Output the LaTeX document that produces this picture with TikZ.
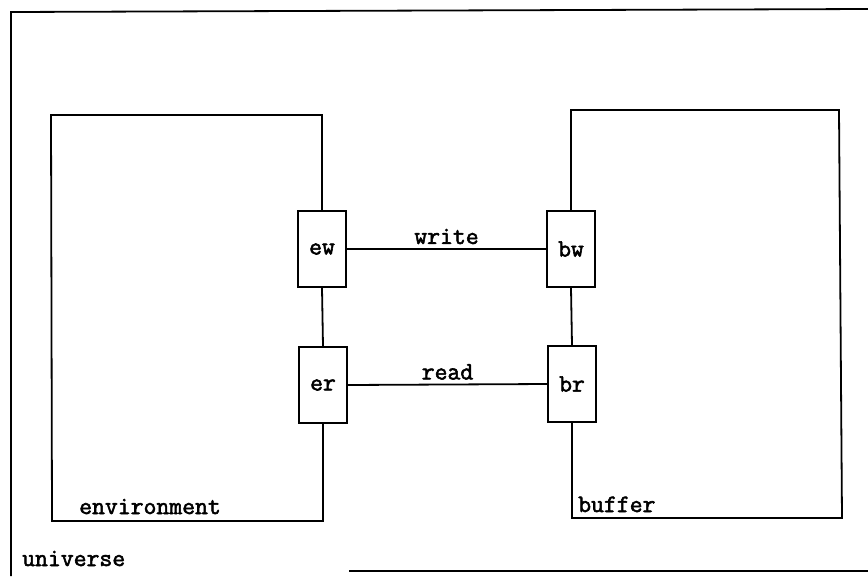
\documentclass[tikz,border=0pt]{standalone}
\usepackage{fontspec}
\newfontfamily\tyfont[FakeBold=2.2]{Latin Modern Mono}
\begin{document}
\begin{tikzpicture}[x=1pt,y=-1pt,
  every node/.style={font=\tyfont\fontsize{25}{28}\selectfont},
  port/.style={draw,line width=1.8pt,minimum width=48pt,minimum height=76pt,inner sep=0pt},
  wire/.style={line width=1.8pt},
  lbl/.style={anchor=base west,inner sep=0pt}]
\useasboundingbox (0,0) rectangle (868,576);
% universe frame (as visible)
\draw[wire] (868,9) -- (11,12) -- (11,576);
\draw[wire] (349,571) -- (868,571);
\node[lbl] (universe) at (22,566) {universe};
% ports
\node[port] (ew) at (322,249) {ew};
\node[port] (er) at (323,385) {er};
\node[port] (bw) at (571,249) {bw};
\node[port] (br) at (572,384) {br};
% environment box
\coordinate (envTR) at (322,115);
\coordinate (envTL) at (51,115);
\coordinate (envBL) at (52,521);
\coordinate (envBR) at (323,521);
\draw[wire] (ew.north) -- (envTR) -- (envTL) -- (envBL) -- (envBR) -- (er.south);
\draw[wire] (ew.south) -- (er.north);
\node[lbl] (envlbl) at (79,514) {environment};
% buffer box
\coordinate (bufTL) at (571,110);
\coordinate (bufTR) at (839,110);
\coordinate (bufBR) at (842,518);
\coordinate (bufBL) at (572,518);
\draw[wire] (bw.north) -- (bufTL) -- (bufTR) -- (bufBR) -- (bufBL) -- (br.south);
\draw[wire] (bw.south) -- (br.north);
\node[lbl] (buflbl) at (578,512) {buffer};
% channels
\draw[wire] (ew.east) -- node[above=4pt,inner sep=0pt] (wlbl) {write} (bw.west);
\draw[wire] (er.east) -- node[above=4pt,inner sep=0pt] (rlbl) {read} (br.west);
\end{tikzpicture}
\end{document}
